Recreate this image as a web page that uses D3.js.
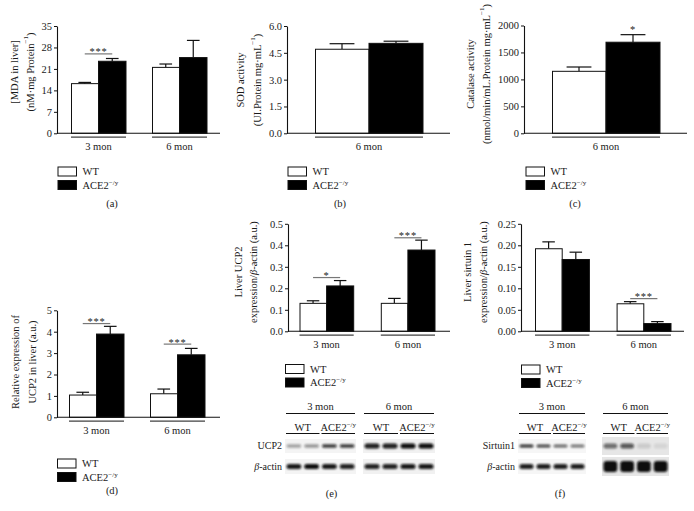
<!DOCTYPE html>
<html><head><meta charset="utf-8">
<script src="https://cdn.jsdelivr.net/npm/d3@7"></script>
<style>
body{margin:0;background:#fff}
svg{display:block}
text{font-family:"Liberation Serif","Times New Roman",serif;fill:#1a1a1a}
</style>
</head><body>
<svg id="c" width="694" height="511"></svg>
<script>
// ---------------- DATA ----------------
const groups2 = ["3 mon", "6 mon"];
const groups1 = ["6 mon"];
const genotypes = ["WT", "ACE2"];

// (a) MDA in liver
const mdaWT = [16.2, 21.5], mdaWTErr = [0.4, 1.1];
const mdaKO = [23.5, 24.7], mdaKOErr = [0.9, 5.6];
const mdaTicks = [0, 7, 14, 21, 28, 35];
const mdaSig = [{group: "3 mon", level: 25.9, text: "***"}];

// (b) SOD activity
const sodWT = [4.70], sodWTErr = [0.31];
const sodKO = [5.03], sodKOErr = [0.12];
const sodTicks = [0, 1.5, 3.0, 4.5, 6.0];

// (c) Catalase activity
const catWT = [1150], catWTErr = [80];
const catKO = [1690], catKOErr = [140];
const catTicks = [0, 500, 1000, 1500, 2000];
const catSig = [{group: "6 mon", level: 1880, text: "*", noLine: true}];

// (d) Relative expression of UCP2 mRNA
const ucpRnaWT = [1.04, 1.10], ucpRnaWTErr = [0.13, 0.22];
const ucpRnaKO = [3.89, 2.92], ucpRnaKOErr = [0.36, 0.30];
const ucpRnaTicks = [0, 1, 2, 3, 4, 5];
const ucpRnaSig = [{group: "3 mon", level: 4.38, text: "***"}, {group: "6 mon", level: 3.42, text: "***"}];

// (e) Liver UCP2 protein
const ucpWT = [0.130, 0.130], ucpWTErr = [0.012, 0.023];
const ucpKO = [0.211, 0.378], ucpKOErr = [0.025, 0.046];
const ucpTicks = [0, 0.1, 0.2, 0.3, 0.4, 0.5];
const ucpSig = [{group: "3 mon", level: 0.250, text: "*"}, {group: "6 mon", level: 0.435, text: "***"}];

// (f) Liver sirtuin 1
const sirtWT = [0.192, 0.064], sirtWTErr = [0.016, 0.005];
const sirtKO = [0.167, 0.018], sirtKOErr = [0.017, 0.0045];
const sirtTicks = [0, 0.05, 0.10, 0.15, 0.20, 0.25];
const sirtSig = [{group: "6 mon", level: 0.076, text: "***"}];

// Western blot band intensities (lanes: WT, WT, ACE2, ACE2)
const ucp2Band3 = [0.35, 0.40, 0.80, 0.80];
const ucp2Band6 = [0.92, 0.92, 1.00, 1.00];
const actinE3 = [0.95, 1.00, 0.95, 0.90];
const actinE6 = [0.90, 0.90, 0.95, 0.95];
const sirtBand3 = [0.85, 0.75, 0.60, 0.55];
const sirtBand6 = [0.55, 0.65, 0.12, 0.08];
const actinF3 = [0.92, 0.92, 0.92, 0.92];
const actinF6 = [1.00, 1.00, 1.00, 1.00];

// ---------------- DRAW ----------------
const svg = d3.select("#c");
const defs = svg.append("defs");
defs.append("filter").attr("id", "blur").attr("x", "-20%").attr("y", "-60%").attr("width", "140%").attr("height", "220%")
  .append("feGaussianBlur").attr("stdDeviation", 0.9);

function supText(sel, base, sup, size) {
  sel.append("tspan").text(base);
  sel.append("tspan").attr("baseline-shift", "super").attr("font-size", size).text(sup);
}

function barPanel(p) {
  const g = svg.append("g");
  const y = d3.scaleLinear().domain([0, p.ticks[p.ticks.length - 1]]).range([p.yBottom, p.yTop]);
  const x = d3.scaleBand().domain(p.groups).range(p.groupRange).paddingInner(p.padIn || 0);
  const xs = d3.scaleBand().domain(genotypes).range([0, x.bandwidth()]);
  const rows = [];
  p.groups.forEach((grp, i) => {
    rows.push({grp, gt: "WT", v: p.wt[i], e: p.wtErr[i]});
    rows.push({grp, gt: "ACE2", v: p.ko[i], e: p.koErr[i]});
  });
  const bw = xs.bandwidth();
  rows.forEach(r => {
    const cx = x(r.grp) + xs(r.gt) + bw / 2;
    g.append("line").attr("x1", cx).attr("x2", cx).attr("y1", y(r.v)).attr("y2", y(r.v + r.e))
      .attr("stroke", "#111").attr("stroke-width", 1.2);
    g.append("line").attr("x1", cx - bw * 0.23).attr("x2", cx + bw * 0.23).attr("y1", y(r.v + r.e)).attr("y2", y(r.v + r.e))
      .attr("stroke", "#111").attr("stroke-width", 1.2);
  });
  g.selectAll("rect.bar").data(rows).enter().append("rect")
    .attr("x", r => x(r.grp) + xs(r.gt) + (r.gt === "WT" ? 0.5 : 0))
    .attr("width", r => bw - (r.gt === "WT" ? 0.5 : 0))
    .attr("y", r => y(r.v)).attr("height", r => y(0) - y(r.v))
    .attr("fill", r => r.gt === "WT" ? "#fff" : "#000")
    .attr("stroke", "#111").attr("stroke-width", 1);
  const ax = g.append("g").attr("transform", `translate(${p.axisX},0)`)
    .call(d3.axisLeft(y).tickValues(p.ticks).tickFormat(p.fmt).tickSize(3).tickSizeOuter(0).tickPadding(2));
  ax.select(".domain").attr("stroke", "#111").attr("stroke-width", 1.1);
  ax.selectAll(".tick line").attr("stroke", "#111");
  ax.selectAll("text").attr("font-size", 10.5).attr("font-family", "Liberation Serif").attr("fill", "#1a1a1a");
  g.append("line").attr("x1", p.axisX).attr("x2", p.axisEnd).attr("y1", y(0)).attr("y2", y(0))
    .attr("stroke", "#111").attr("stroke-width", 1.1);
  p.groups.forEach(grp => {
    g.append("line").attr("x1", x(grp)).attr("x2", x(grp) + x.bandwidth())
      .attr("y1", y(0) + 3.8).attr("y2", y(0) + 3.8).attr("stroke", "#111").attr("stroke-width", 1);
    g.append("text").attr("x", x(grp) + x.bandwidth() / 2).attr("y", y(0) + 17)
      .attr("text-anchor", "middle").attr("font-size", 10.5).text(grp);
  });
  (p.sig || []).forEach(s => {
    const x1 = x(s.group) + xs("WT") + bw / 2, x2 = x(s.group) + xs("ACE2") + bw / 2;
    if (!s.noLine) {
      g.append("line").attr("x1", x1).attr("x2", x2).attr("y1", y(s.level)).attr("y2", y(s.level))
        .attr("stroke", "#777").attr("stroke-width", 1.2);
    }
    g.append("text").attr("x", s.noLine ? x2 : (x1 + x2) / 2).attr("y", y(s.level) + 1.5)
      .attr("text-anchor", "middle").attr("font-size", 10.5).attr("fill", "#555").attr("letter-spacing", 0.8).text(s.text);
  });
  p.title.forEach((t, i) => {
    const tx = g.append("text").attr("transform", `translate(${p.titleX[i]},${p.titleY}) rotate(-90)`)
      .attr("text-anchor", "middle").attr("dominant-baseline", "central").attr("font-size", 10.5);
    if (Array.isArray(t)) {
      t.forEach(part => {
        if (typeof part === "string") tx.append("tspan").text(part);
        else if (part.it) tx.append("tspan").attr("font-style", "italic").text(part.it);
        else tx.append("tspan").attr("baseline-shift", "super").attr("font-size", 7).text(part.sup);
      });
    } else tx.text(t);
  });
  const lg = g.append("g").attr("transform", `translate(${p.legend[0]},${p.legend[1]})`);
  genotypes.forEach((gt, i) => {
    lg.append("rect").attr("x", 0.5).attr("y", i * 13.5 + 0.5).attr("width", 18.5).attr("height", 9)
      .attr("fill", gt === "WT" ? "#fff" : "#000").attr("stroke", "#111").attr("stroke-width", 1);
    const t = lg.append("text").attr("x", 25).attr("y", i * 13.5 + 8.8).attr("font-size", 10.5);
    if (gt === "WT") t.text("WT"); else supText(t, "ACE2", "−/y", 7);
  });
  svg.append("text").attr("x", p.label[0]).attr("y", p.label[1]).attr("text-anchor", "middle")
    .attr("font-size", 10.5).text(p.label[2]);
}

const f1 = d3.format(".1f"), f2 = d3.format(".2f"), f0 = d3.format("d");

barPanel({groups: groups2, wt: mdaWT, wtErr: mdaWTErr, ko: mdaKO, koErr: mdaKOErr, ticks: mdaTicks, fmt: f0,
  axisX: 57, axisEnd: 220, yTop: 26, yBottom: 133.3, groupRange: [71, 207], padIn: 26 / 81,
  sig: mdaSig, title: ["[MDA in liver]", ["(nM·mg Protein", {sup: "−1"}, ")"]], titleX: [14, 30], titleY: 72,
  legend: [57.5, 166.5], label: [112, 207, "(a)"]});

barPanel({groups: groups1, wt: sodWT, wtErr: sodWTErr, ko: sodKO, koErr: sodKOErr, ticks: sodTicks, fmt: f1,
  axisX: 287, axisEnd: 450, yTop: 26, yBottom: 133.3, groupRange: [315, 423],
  title: ["SOD activity", ["(UI.Protein mg·mL", {sup: "−1"}, ")"]], titleX: [240, 257], titleY: 80,
  legend: [287.5, 166.5], label: [340, 207, "(b)"]});

barPanel({groups: groups1, wt: catWT, wtErr: catWTErr, ko: catKO, koErr: catKOErr, ticks: catTicks, fmt: f0,
  axisX: 524, axisEnd: 687, yTop: 25.5, yBottom: 133.3, groupRange: [552, 660], sig: catSig,
  title: ["Catalase activity", ["(nmol/min/mL.Protein mg·mL", {sup: "−1"}, ")"]], titleX: [470, 486], titleY: 74,
  legend: [525.5, 166.5], label: [575, 207, "(c)"]});

barPanel({groups: groups2, wt: ucpRnaWT, wtErr: ucpRnaWTErr, ko: ucpRnaKO, koErr: ucpRnaKOErr, ticks: ucpRnaTicks, fmt: f0,
  axisX: 57, axisEnd: 220, yTop: 310.3, yBottom: 417.3, groupRange: [69, 205], padIn: 26 / 81,
  sig: ucpRnaSig, title: ["Relative expression of", "UCP2 in liver (a.u.)"], titleX: [15, 32], titleY: 362,
  legend: [57, 458.5], label: [112, 494, "(d)"]});

barPanel({groups: groups2, wt: ucpWT, wtErr: ucpWTErr, ko: ucpKO, koErr: ucpKOErr, ticks: ucpTicks, fmt: f1,
  axisX: 288, axisEnd: 450, yTop: 223.8, yBottom: 331.3, groupRange: [299.5, 435], padIn: 27 / 81,
  sig: ucpSig, title: ["Liver UCP2", ["expression/", {it: "β"}, "-actin (a.u.)"]], titleX: [238, 253], titleY: 272,
  legend: [285, 364], label: [331.5, 497, "(e)"]});

barPanel({groups: groups2, wt: sirtWT, wtErr: sirtWTErr, ko: sirtKO, koErr: sirtKOErr, ticks: sirtTicks, fmt: f2,
  axisX: 521, axisEnd: 684, yTop: 223.8, yBottom: 331.3, groupRange: [535, 671], padIn: 27 / 81,
  sig: sirtSig, title: ["Liver sirtuin 1", ["expression/", {it: "β"}, "-actin (a.u.)"]], titleX: [467, 483], titleY: 272,
  legend: [521, 364.5], label: [560, 497, "(f)"]});

// ---------------- WESTERN BLOTS ----------------
const lanes = [0, 1, 2, 3];
function blot(b) {
  const g = svg.append("g");
  b.strips.forEach(s => {
    const xl = d3.scaleBand().domain(lanes).range([s.x0, s.x1]);
    g.append("text").attr("x", (s.x0 + s.x1) / 2).attr("y", 410).attr("text-anchor", "middle").attr("font-size", 10.5).text(s.name);
    g.append("line").attr("x1", s.x0 + 1).attr("x2", s.x1 - 1).attr("y1", 413.5).attr("y2", 413.5).attr("stroke", "#111");
    [["WT", 0, 1], ["ACE2", 2, 3]].forEach(([nm, a, c]) => {
      const l0 = xl(a) + 1, l1 = xl(c) + xl.bandwidth() - 1;
      const t = g.append("text").attr("x", (l0 + l1) / 2).attr("y", 431).attr("text-anchor", "middle").attr("font-size", 10.5);
      if (nm === "WT") t.text("WT"); else supText(t, "ACE2", "−/y", 7);
      g.append("line").attr("x1", l0).attr("x2", l1).attr("y1", 433.5).attr("y2", 433.5).attr("stroke", "#111");
    });
    s.rows.forEach(r => {
      g.append("rect").attr("x", s.x0).attr("y", r.y0).attr("width", s.x1 - s.x0).attr("height", r.y1 - r.y0).attr("fill", s.bg);
      g.selectAll(null).data(r.vals).enter().append("rect")
        .attr("x", (d, i) => xl(i) + 1.5).attr("width", xl.bandwidth() - 3)
        .attr("y", (r.y0 + r.y1) / 2 - r.h / 2).attr("height", r.h).attr("rx", Math.min(3, r.h / 2))
        .attr("fill", "#0a0a0a").attr("opacity", d => d).attr("filter", "url(#blur)");
    });
  });
  b.rowNames.forEach((nm, i) => {
    const t = g.append("text").attr("x", b.nameX).attr("y", b.nameY[i]).attr("font-size", 10).attr("text-anchor", "end");
    if (nm === "β-actin") { t.append("tspan").attr("font-style", "italic").text("β"); t.append("tspan").text("-actin"); }
    else t.text(nm);
  });
}

blot({nameX: 282, nameY: [449, 469.5], rowNames: ["UCP2", "β-actin"], strips: [
  {name: "3 mon", x0: 285, x1: 356, bg: "#f4f4f4", rows: [
    {y0: 439, y1: 453, vals: ucp2Band3, h: 3.5}, {y0: 459, y1: 474, vals: actinE3, h: 5}]},
  {name: "6 mon", x0: 363, x1: 435, bg: "#f1f1f1", rows: [
    {y0: 439, y1: 453, vals: ucp2Band6, h: 5}, {y0: 459, y1: 474, vals: actinE6, h: 5}]}
]});

blot({nameX: 515, nameY: [449, 469.5], rowNames: ["Sirtuin1", "β-actin"], strips: [
  {name: "3 mon", x0: 518, x1: 586, bg: "#f6f6f6", rows: [
    {y0: 439, y1: 453, vals: sirtBand3, h: 3}, {y0: 459, y1: 474, vals: actinF3, h: 5}]},
  {name: "6 mon", x0: 602, x1: 669, bg: "#e6e6e6", rows: [
    {y0: 437, y1: 455, vals: sirtBand6, h: 5}, {y0: 457, y1: 476, vals: actinF6, h: 11}]}
]});
</script>
</body></html>
